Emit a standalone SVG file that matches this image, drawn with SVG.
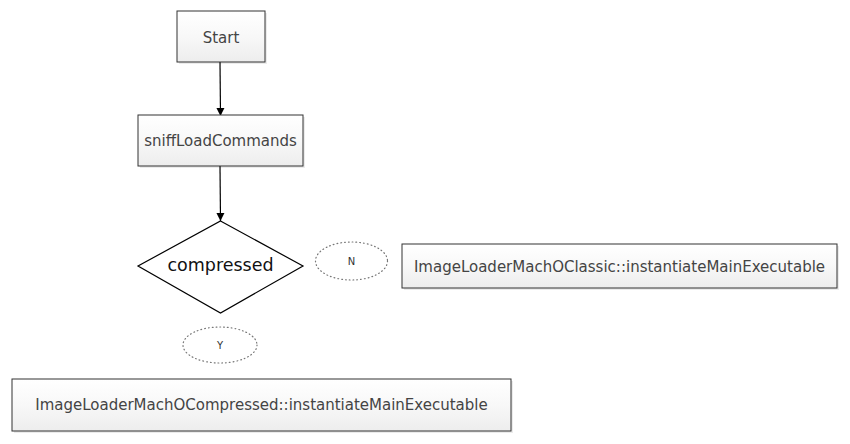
<svg xmlns="http://www.w3.org/2000/svg" width="850" height="444" viewBox="0 0 850 444">
<defs>
<linearGradient id="g" x1="0" y1="0" x2="0" y2="1">
<stop offset="0" stop-color="#ffffff"/>
<stop offset="0.5" stop-color="#f8f8f8"/>
<stop offset="1" stop-color="#ededed"/>
</linearGradient>
<marker id="arr" viewBox="0 0 10 10" refX="10" refY="5" markerWidth="8" markerHeight="9" orient="auto" markerUnits="userSpaceOnUse">
<path d="M0,0 L10,5 L0,10 z" fill="#000"/>
</marker>
<style>
.box{fill:url(#g);stroke:#333;stroke-width:1}
.sh{fill:#000;opacity:0.08}
.t{font-family:"DejaVu Sans",Verdana,sans-serif;font-size:15px;fill:#444;text-anchor:middle;dominant-baseline:central}
.c{font-family:"DejaVu Sans",sans-serif;font-size:17.5px;fill:#111;text-anchor:middle;dominant-baseline:central}
.lbl{fill:#fff;stroke:#777;stroke-width:1.2;stroke-dasharray:0.8 3;stroke-linecap:round}
.lt{font-family:"DejaVu Sans",sans-serif;font-size:10px;fill:#333;text-anchor:middle;dominant-baseline:central}
.ln{stroke:#000;stroke-width:1.2;fill:none}
</style>
</defs>
<rect width="850" height="444" fill="#fff"/>
<g id="connectors">
<line class="ln" x1="220" y1="62" x2="220.5" y2="116" marker-end="url(#arr)"/>
<line class="ln" x1="220" y1="166" x2="220.5" y2="221" marker-end="url(#arr)"/>
</g>
<g id="start">
<rect class="sh" x="179" y="13" width="88" height="51"/>
<rect class="box" x="177" y="11" width="88" height="51"/>
<text class="t" x="221" y="38">Start</text>
</g>
<g id="sniff">
<rect class="sh" x="140" y="117" width="165" height="51"/>
<rect class="box" x="138" y="115" width="165" height="51"/>
<text class="t" x="220.5" y="141">sniffLoadCommands</text>
</g>
<g id="compressed">
<polygon points="220.5,221 303,266 220.5,313 138,266" fill="#fff" stroke="#000" stroke-width="1.2"/>
<text class="c" x="220.5" y="265">compressed</text>
</g>
<g id="labelN">
<ellipse class="lbl" cx="351.5" cy="261" rx="36" ry="19"/>
<text class="lt" x="351.5" y="261">N</text>
</g>
<g id="labelY">
<ellipse class="lbl" cx="220" cy="345" rx="37" ry="18"/>
<text class="lt" x="220" y="345">Y</text>
</g>
<g id="classic">
<rect class="sh" x="404" y="246" width="435" height="44"/>
<rect class="box" x="402" y="244" width="435" height="44"/>
<text class="t" x="619.5" y="267">ImageLoaderMachOClassic::instantiateMainExecutable</text>
</g>
<g id="compressedLoader">
<rect class="sh" x="14" y="381" width="499" height="52"/>
<rect class="box" x="12" y="379" width="499" height="52"/>
<text class="t" x="261.5" y="405">ImageLoaderMachOCompressed::instantiateMainExecutable</text>
</g>
</svg>
